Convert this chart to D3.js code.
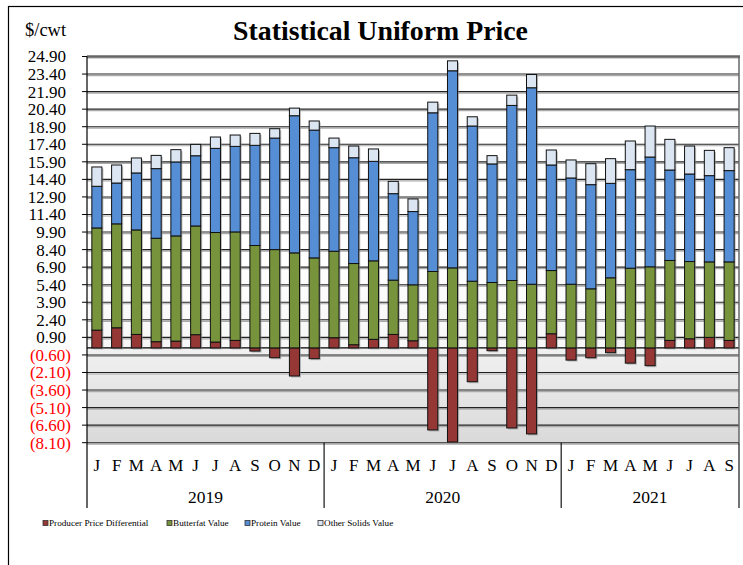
<!DOCTYPE html>
<html><head><meta charset="utf-8">
<script src="https://cdn.jsdelivr.net/npm/d3@7"></script>
<style>body{margin:0;background:#fff}svg{display:block}text{font-family:"Liberation Serif","Times New Roman",serif}</style>
</head><body><svg id="c" width="743" height="565"></svg>
<script>
const months = ["J","F","M","A","M","J","J","A","S","O","N","D","J","F","M","A","M","J","J","A","S","O","N","D","J","F","M","A","M","J","J","A","S"];
const years = ["2019","2020","2021"];
const yearSpans = [12,12,9];
const ppd = [1.52,1.72,1.15,0.53,0.58,1.13,0.50,0.64,-0.27,-0.84,-2.40,-0.92,
             0.87,0.27,0.73,1.15,0.61,-7.01,-8.04,-2.89,-0.24,-6.84,-7.35,1.21,
             -1.04,-0.84,-0.41,-1.30,-1.52,0.64,0.78,0.90,0.64];
const butterfat = [8.73,8.88,8.93,8.84,8.99,9.29,9.36,9.27,8.75,8.40,8.12,7.69,
             7.39,6.94,6.71,4.64,4.78,6.53,6.84,5.70,5.59,5.76,5.44,5.40,
             5.44,5.05,5.99,6.81,6.93,6.83,6.60,6.45,6.71];
const protein = [3.56,3.49,4.87,5.95,6.32,6.00,7.19,7.31,8.56,9.53,11.72,10.92,
             8.85,9.04,8.50,7.39,6.26,13.56,16.84,13.26,10.13,14.96,16.79,9.02,
             9.08,8.90,8.07,8.42,9.38,7.73,7.48,7.37,7.80];
const otherSolids = [1.65,1.54,1.28,1.13,1.05,0.97,0.97,0.97,1.02,0.80,0.65,0.78,
             0.82,1.00,1.06,1.05,1.08,0.91,0.85,0.79,0.71,0.88,1.13,1.28,
             1.54,1.79,2.11,2.45,2.65,2.62,2.39,2.16,1.96];
const seriesNames = ["Producer Price Differential","Butterfat Value","Protein Value","Other Solids Value"];
const colors = ["#953735","#77933C","#558ED5","#DCE6F2"];
const yTicks = [24.9,23.4,21.9,20.4,18.9,17.4,15.9,14.4,12.9,11.4,9.9,8.4,6.9,5.4,3.9,2.4,0.9,-0.6,-2.1,-3.6,-5.1,-6.6,-8.1];

const svg = d3.select("#c");
const L=87, R=739, T=56.5, B=442.7;
const x = d3.scaleBand().domain(d3.range(months.length)).range([L,R]).paddingInner(0.49).paddingOuter(0.245);
const y = d3.scaleLinear().domain([-8.1,24.9]).range([B,T]);

// frame
svg.append("rect").attr("x",8.5).attr("y",6.5).attr("width",745).attr("height",600).attr("fill","#fff").attr("stroke","#000").attr("stroke-width",1.2);

const defs = svg.append("defs");
const g1 = defs.append("linearGradient").attr("id","gPos").attr("x1",0).attr("y1",0).attr("x2",0).attr("y2",1);
g1.append("stop").attr("offset","0%").attr("stop-color","#ffffff");
g1.append("stop").attr("offset","70%").attr("stop-color","#ffffff");
g1.append("stop").attr("offset","100%").attr("stop-color","#f6f6f6");
const g2 = defs.append("linearGradient").attr("id","gNeg").attr("x1",0).attr("y1",0).attr("x2",0).attr("y2",1);
g2.append("stop").attr("offset","0%").attr("stop-color","#f1f1f1");
g2.append("stop").attr("offset","100%").attr("stop-color","#d9d9d9");

svg.append("rect").attr("x",L).attr("y",T).attr("width",R-L).attr("height",y(0)-T).attr("fill","url(#gPos)");
svg.append("rect").attr("x",L).attr("y",y(0)).attr("width",R-L).attr("height",B-y(0)).attr("fill","url(#gNeg)");

// gridlines
const grid = svg.append("g");
yTicks.forEach(v=>{
  grid.append("line").attr("x1",L).attr("x2",R).attr("y1",y(v)+1.5).attr("y2",y(v)+1.5).attr("stroke","#aaa").attr("stroke-width",1.2);
  grid.append("line").attr("x1",L).attr("x2",R).attr("y1",y(v)).attr("y2",y(v)).attr("stroke","#222").attr("stroke-width",1.1);
});
svg.append("line").attr("x1",L).attr("x2",R).attr("y1",y(0)).attr("y2",y(0)).attr("stroke","#000").attr("stroke-width",1.2);
svg.append("line").attr("x1",L).attr("x2",R+1).attr("y1",T).attr("y2",T).attr("stroke","#666").attr("stroke-width",2.5);
svg.append("line").attr("x1",R).attr("x2",R).attr("y1",T).attr("y2",B).attr("stroke","#666").attr("stroke-width",1.5);

// bars
const data = months.map((m,i)=>({i, ppd:ppd[i], butterfat:butterfat[i], protein:protein[i], other:otherSolids[i]}));
const keys = ["ppd","butterfat","protein","other"];
const stack = d3.stack().keys(keys).offset(d3.stackOffsetDiverging)(data);
const bars = svg.append("g");
stack.forEach((s,k)=>{
  s.forEach(d=>{
    const y0=Math.min(y(d[0]),y(d[1])), h=Math.abs(y(d[0])-y(d[1]));
    if(h<0.01) return;
    bars.append("rect").attr("x",x(d.data.i)+1.5).attr("y",y0+1.5).attr("width",x.bandwidth()).attr("height",h)
      .attr("fill","#888").attr("opacity",0.55);
  });
});
stack.forEach((s,k)=>{
  s.forEach(d=>{
    const y0=Math.min(y(d[0]),y(d[1])), h=Math.abs(y(d[0])-y(d[1]));
    if(h<0.01) return;
    bars.append("rect").attr("x",x(d.data.i)).attr("y",y0).attr("width",x.bandwidth()).attr("height",h)
      .attr("fill",colors[k]).attr("stroke","#111").attr("stroke-width",1);
  });
});

// left axis
svg.append("line").attr("x1",L).attr("x2",L).attr("y1",T).attr("y2",508).attr("stroke","#000").attr("stroke-width",1.2);
const yAx = svg.append("g");
yTicks.forEach(v=>{
  yAx.append("line").attr("x1",L-5).attr("x2",L).attr("y1",y(v)).attr("y2",y(v)).attr("stroke","#000");
  const neg = v<0;
  yAx.append("text").attr("x",neg?71:66).attr("y",y(v)).attr("dy","0.35em").attr("text-anchor","end")
    .attr("font-size",17).attr("fill",neg?"#ff0000":"#000")
    .text(neg?"("+Math.abs(v).toFixed(2)+")":v.toFixed(2));
});

// x axis labels
const xl = svg.append("g");
months.forEach((m,i)=>{
  xl.append("text").attr("x",x(i)+x.bandwidth()/2).attr("y",465).attr("dy","0.35em").attr("text-anchor","middle").attr("font-size",17).text(m);
});
let start=0;
years.forEach((yr,j)=>{
  const x0 = L + start*x.step(), x1 = L + (start+yearSpans[j])*x.step();
  xl.append("text").attr("x",(x0+x1)/2).attr("y",497).attr("dy","0.35em").attr("text-anchor","middle").attr("font-size",17.5).text(yr);
  xl.append("line").attr("x1",x1).attr("x2",x1).attr("y1",B).attr("y2",508).attr("stroke","#000").attr("stroke-width",1.1);
  start+=yearSpans[j];
});

// title
svg.append("text").attr("x",380.5).attr("y",40).attr("text-anchor","middle").attr("font-size",27.8).attr("font-weight","bold").text("Statistical Uniform Price");
svg.append("text").attr("x",25).attr("y",36).attr("font-size",18.5).text("$/cwt");

// legend
const legX = [43,167,245,318];
seriesNames.forEach((n,k)=>{
  svg.append("rect").attr("x",legX[k]).attr("y",520.5).attr("width",5).attr("height",5).attr("fill",colors[k]).attr("stroke","#333").attr("stroke-width",0.8);
  svg.append("text").attr("x",legX[k]+6).attr("y",523).attr("dy","0.35em").attr("font-size",9.2).text(n);
});
</script></body></html>
